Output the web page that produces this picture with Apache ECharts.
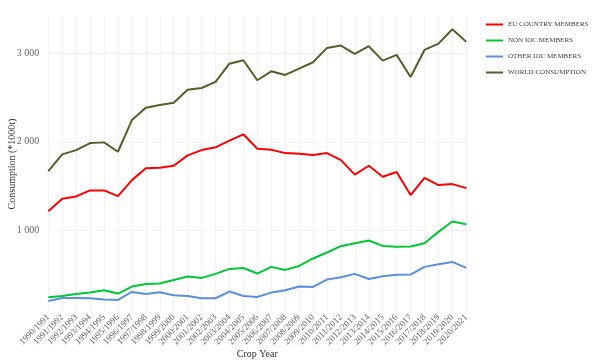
<!DOCTYPE html>
<html>
<head>
<meta charset="utf-8">
<script src="https://cdn.jsdelivr.net/npm/echarts@6/dist/echarts.min.js"></script>
<style>
html,body{margin:0;padding:0;background:#fff;}
#chart{width:597px;height:361px;}
</style>
</head>
<body>
<div id="chart"></div>
<script>
const categories = ['1990/1991','1991/1992','1992/1993','1993/1994','1994/1995','1995/1996','1996/1997','1997/1998','1998/1999','1999/2000','2000/2001','2001/2002','2002/2003','2003/2004','2004/2005','2005/2006','2006/2007','2007/2008','2008/2009','2009/2010','2010/2011','2011/2012','2012/2013','2013/2014','2014/2015','2015/2016','2016/2017','2017/2018','2018/2019','2019/2020','2020/2021'];
const euMembers = [1218,1357,1384,1452,1452,1388,1568,1702,1708,1730,1847,1907,1938,2013,2085,1922,1911,1873,1866,1851,1873,1794,1630,1730,1606,1659,1399,1594,1512,1523,1478];
const nonIocMembers = [246,261,284,299,325,288,367,397,401,442,480,465,510,566,577,514,589,555,600,684,751,823,855,887,826,815,819,856,984,1102,1071];
const otherIocMembers = [205,238,238,235,220,216,306,282,303,269,261,235,235,311,261,250,299,325,367,363,446,472,510,453,484,499,503,589,619,645,577];
const worldConsumption = [1670,1859,1907,1986,1994,1888,2246,2385,2416,2442,2589,2608,2676,2882,2921,2695,2796,2755,2826,2898,3060,3086,2992,3079,2916,2981,2732,3037,3108,3271,3128];
const yTicks = [1000,2000,3000];

const font = 'Liberation Serif';
const chart = echarts.init(document.getElementById('chart'));
function mk(name, data, color){
  return {name, type:'line', data, symbol:'none', smooth:false,
    lineStyle:{color, width:2}, itemStyle:{color}};
}
chart.setOption({
  animation:false,
  grid:{left:48.3, right:130.7, top:16, bottom:49, containLabel:false, outerBoundsMode:'none'},
  legend:{
    orient:'vertical', left:481, top:16, icon:'rect', itemWidth:17, itemHeight:2,
    itemGap:9,
    textStyle:{fontFamily:font, fontSize:7, color:'#404040'},
    data:['EU COUNTRY MEMBERS','NON IOC MEMBERS','OTHER IOC MEMBERS','WORLD CONSUMPTION']
  },
  xAxis:{
    type:'category', data:categories, boundaryGap:false,
    name:'Crop Year', nameLocation:'middle', nameGap:37, nameMoveOverlap:false,
    nameTextStyle:{fontFamily:font, fontSize:10, color:'#333'},
    axisLine:{show:false}, axisTick:{show:false},
    axisLabel:{rotate:45, interval:0, fontFamily:font, fontSize:9, color:'#666', margin:4},
    splitLine:{show:true, interval:0, lineStyle:{color:'#f2f2f2', width:1}}
  },
  yAxis:{
    type:'value', min:80, max:3420,
    name:'Consumption (*1000t)', nameLocation:'middle', nameGap:31, nameMoveOverlap:false,
    nameTextStyle:{fontFamily:font, fontSize:10, color:'#333'},
    axisLine:{show:false},
    axisTick:{show:false, customValues:yTicks},
    axisLabel:{customValues:yTicks, fontFamily:font, fontSize:10, color:'#666', margin:9,
      formatter:v=>String(v).replace(/\B(?=(\d{3})+(?!\d))/g,' ')},
    splitLine:{show:true, lineStyle:{color:'#f2f2f2', width:1}}
  },
  series:[
    mk('EU COUNTRY MEMBERS', euMembers, '#ff0000'),
    mk('NON IOC MEMBERS', nonIocMembers, '#00c832'),
    mk('OTHER IOC MEMBERS', otherIocMembers, '#5b8fdc'),
    mk('WORLD CONSUMPTION', worldConsumption, '#4f6228')
  ]
});
</script>
</body>
</html>
